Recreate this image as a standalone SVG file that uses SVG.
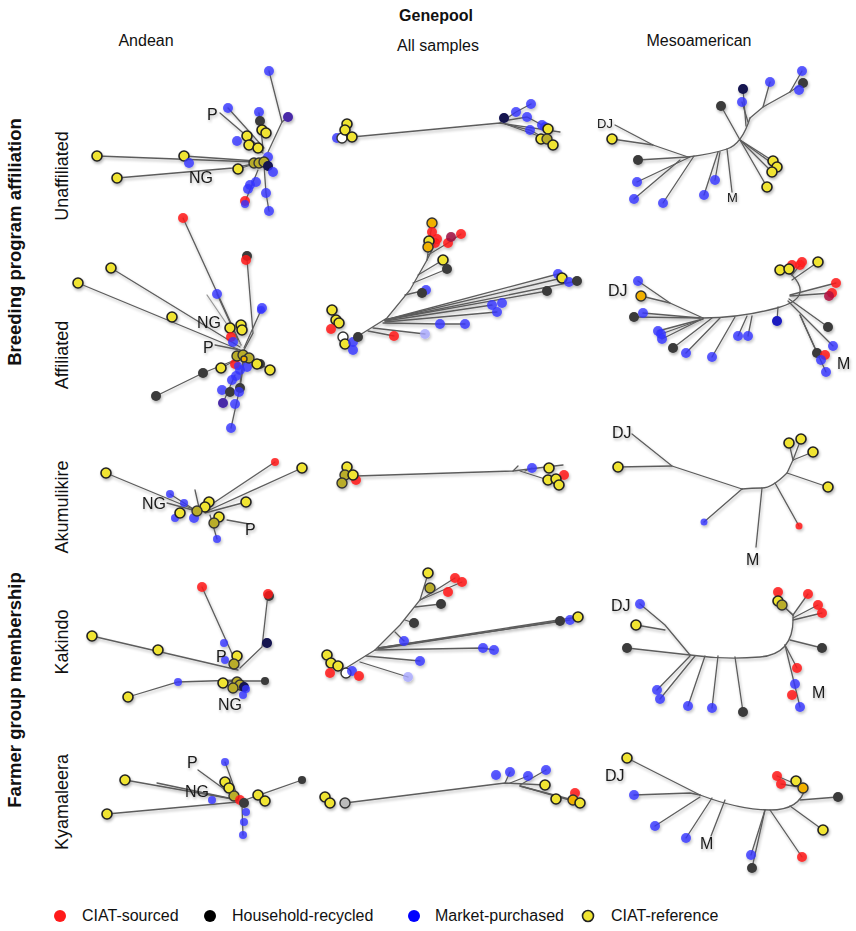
<svg xmlns="http://www.w3.org/2000/svg" width="856" height="931" viewBox="0 0 856 931">
<style>
text{font-family:"Liberation Sans",Arial,sans-serif;fill:#111}
.h{font-size:16px;font-weight:bold}
.g{font-size:18.5px;font-weight:bold}
.c{font-size:16px}
.row{font-size:18px}
.lab{font-size:16px;fill:#1a1a1a}
.sm{font-size:13px}
.br path{fill:none;stroke:#5c5c5c;stroke-width:1.3;stroke-linecap:round}
.y{fill:#f0e431;stroke:#222;stroke-width:1.6}
.ol{fill:#b9ad2c;stroke:#333;stroke-width:1.4}
.o{fill:#f0b000;stroke:#333;stroke-width:1.4}
.b{fill:#3434ff;fill-opacity:.8}
.pb{fill:#a9a9ff;fill-opacity:.8}
.r{fill:#ff1a1a;fill-opacity:.85}
.k{fill:#3a3a3a}
.n{fill:#12124f}
.p{fill:#4a2aa8}
.w{fill:#fff;stroke:#333;stroke-width:1.4}
</style>
<defs>
<filter id="sh" x="-50%" y="-50%" width="200%" height="200%"><feGaussianBlur in="SourceAlpha" stdDeviation="1.5"/><feOffset dx="1" dy="1.5"/><feComponentTransfer><feFuncA type="linear" slope="0.3"/></feComponentTransfer><feMerge><feMergeNode/><feMergeNode in="SourceGraphic"/></feMerge></filter>
</defs>

<g id="headers">
<text class="h" x="436" y="21" text-anchor="middle">Genepool</text>
<text class="c" x="146" y="46" text-anchor="middle">Andean</text>
<text class="c" x="438" y="51" text-anchor="middle">All samples</text>
<text class="c" x="699" y="46" text-anchor="middle">Mesoamerican</text>
<text class="g" transform="translate(21,242) rotate(-90)" text-anchor="middle">Breeding program affiliation</text>
<text class="g" transform="translate(21,690) rotate(-90)" text-anchor="middle">Farmer group membership</text>
<text class="row" transform="translate(68,176) rotate(-90)" text-anchor="middle">Unaffiliated</text>
<text class="row" transform="translate(68,355) rotate(-90)" text-anchor="middle">Affiliated</text>
<text class="row" transform="translate(68,507) rotate(-90)" text-anchor="middle">Akumulikire</text>
<text class="row" transform="translate(68,642) rotate(-90)" text-anchor="middle">Kakindo</text>
<text class="row" transform="translate(68,802) rotate(-90)" text-anchor="middle">Kyamaleera</text>
</g>

<!-- Row 1 Andean Unaffiliated -->
<g id="andean-unaffiliated" filter="url(#sh)">
<g class="br"><path d="M97,156 L256,162"/><path d="M184,156 L256,161"/><path d="M117,178 L233,168 L258,163"/><path d="M220,113 L263,150"/><path d="M228,108 L264,148"/><path d="M269,71 L282,122 L268,152"/><path d="M288,117 L282,122"/><path d="M259,113 L263,148"/><path d="M247,136 L263,151"/><path d="M249,145 L263,153"/><path d="M238,169 L258,163"/><path d="M269,211 L266,193 L264,165"/><path d="M245,202 L258,170"/></g>
<circle class="b" cx="269" cy="71" r="5"/><circle class="p" cx="288" cy="117" r="5"/><circle class="b" cx="228" cy="108" r="5"/><circle class="b" cx="259" cy="112" r="5"/><circle class="k" cx="260" cy="121" r="5"/>
<circle class="y" cx="262" cy="130" r="5"/><circle class="y" cx="266" cy="133" r="5"/><circle class="b" cx="237" cy="141" r="5"/><circle class="y" cx="247" cy="136" r="5"/><circle class="y" cx="249" cy="145" r="5"/><circle class="y" cx="258" cy="148" r="5"/>
<circle class="y" cx="97" cy="156" r="5"/><circle class="y" cx="184" cy="156" r="5"/><circle class="b" cx="189" cy="163" r="5"/><circle class="y" cx="117" cy="178" r="5"/><circle class="y" cx="238" cy="169" r="5"/>
<circle class="b" cx="268" cy="157" r="5"/><circle class="ol" cx="254" cy="163" r="5"/><circle class="ol" cx="259" cy="163" r="5"/><circle class="ol" cx="264" cy="162" r="5"/><circle class="n" cx="268" cy="166" r="5"/><circle class="b" cx="273" cy="172" r="5"/>
<circle class="b" cx="256" cy="182" r="5"/><circle class="b" cx="250" cy="185" r="5"/><circle class="b" cx="248" cy="189" r="5"/><circle class="b" cx="266" cy="193" r="5"/><circle class="r" cx="245" cy="201" r="5"/><circle class="b" cx="245" cy="204" r="4"/><circle class="b" cx="269" cy="211" r="5"/>
<text class="lab" x="207" y="120">P</text><text class="lab" x="189" y="183">NG</text>
</g>

<!-- Row 2 Andean Affiliated -->
<g id="andean-affiliated" filter="url(#sh)">
<g class="br"><path d="M183,218 L241,345"/><path d="M247,259 L253,333 L244,350"/><path d="M262,308 L244,348"/><path d="M111,268 L240,347"/><path d="M78,283 L240,350"/><path d="M207,295 L241,345" style="stroke:#999"/><path d="M217,294 L238,340"/><path d="M215,345 L240,350"/><path d="M156,396 L203,373 L240,358"/><path d="M221,368 L240,358"/><path d="M270,370 L250,358"/><path d="M231,428 L239,392 L243,360"/><path d="M223,403 L235,375"/><path d="M240,388 L244,362"/></g>
<circle class="r" cx="183" cy="218" r="5"/><circle class="k" cx="247" cy="256" r="5"/><circle class="r" cx="246" cy="260" r="5"/>
<circle class="y" cx="111" cy="268" r="5"/><circle class="y" cx="78" cy="283" r="5"/><circle class="y" cx="172" cy="317" r="5"/>
<circle class="b" cx="217" cy="294" r="5"/><circle class="b" cx="262" cy="308" r="5"/><circle class="b" cx="261" cy="310" r="4"/>
<circle class="y" cx="241" cy="325" r="5"/><circle class="y" cx="230" cy="328" r="5"/><circle class="y" cx="242" cy="330" r="5"/><circle class="r" cx="231" cy="337" r="5"/><circle class="b" cx="233" cy="342" r="5"/>
<circle class="b" cx="247" cy="367" r="5"/><circle class="b" cx="240" cy="370" r="5"/><circle class="r" cx="235" cy="364" r="5"/><circle class="b" cx="238" cy="366" r="4"/>
<circle class="ol" cx="237" cy="356" r="5"/><circle class="ol" cx="243" cy="355" r="5"/><circle class="ol" cx="249" cy="358" r="5"/><circle class="o" cx="244" cy="359" r="3"/>
<circle class="k" cx="260" cy="364" r="5"/><circle class="y" cx="257" cy="364" r="5"/><circle class="y" cx="270" cy="370" r="5"/><circle class="y" cx="221" cy="368" r="5"/>
<circle class="k" cx="203" cy="373" r="5"/><circle class="k" cx="156" cy="396" r="5"/>
<circle class="b" cx="232" cy="380" r="5"/><circle class="b" cx="236" cy="376" r="5"/><circle class="b" cx="222" cy="390" r="5"/><circle class="k" cx="230" cy="392" r="5"/><circle class="k" cx="240" cy="388" r="5"/><circle class="b" cx="239" cy="392" r="5"/><circle class="p" cx="223" cy="403" r="5"/><circle class="b" cx="235" cy="404" r="5"/><circle class="b" cx="231" cy="428" r="5"/>
<text class="lab" x="197" y="328">NG</text><text class="lab" x="203" y="353">P</text>
</g>

<!-- Row 1 All samples Unaffiliated -->
<g id="all-unaffiliated" filter="url(#sh)">
<g class="br"><path d="M352,137 L500,123 L560,132"/><path d="M500,123 L516,112 L531,104"/><path d="M503,121 L527,117 L542,125"/><path d="M505,124 L530,130 L548,140"/><path d="M508,125 L547,139 L553,145"/></g>
<circle class="b" cx="337" cy="138" r="5"/><circle class="w" cx="342" cy="138" r="5"/><circle class="y" cx="347" cy="124" r="5"/><circle class="y" cx="345" cy="130" r="5"/><circle class="y" cx="352" cy="137" r="5"/>
<circle class="n" cx="504" cy="118" r="5"/><circle class="b" cx="516" cy="112" r="5"/><circle class="b" cx="531" cy="104" r="5"/><circle class="b" cx="527" cy="117" r="5"/><circle class="b" cx="530" cy="130" r="5"/><circle class="b" cx="542" cy="125" r="5"/><circle class="b" cx="545" cy="127" r="5"/>
<circle class="y" cx="548" cy="129" r="5"/><circle class="y" cx="541" cy="139" r="5"/><circle class="ol" cx="547" cy="139" r="5"/><circle class="y" cx="553" cy="145" r="5"/>
</g>

<!-- Row 2 All samples Affiliated -->
<g id="all-affiliated" filter="url(#sh)">
<g class="br"><path d="M355,338 L387,318 L410,290 L427,260 L432,223"/><path d="M427,260 L437,240"/><path d="M428,255 L448,243 L461,234"/><path d="M418,275 L443,260"/><path d="M413,283 L447,269"/><path d="M405,295 L426,290"/><path d="M385,320 L558,274"/><path d="M385,320 L562,278"/><path d="M385,320 L577,281"/><path d="M385,320 L547,291"/><path d="M385,321 L492,305"/><path d="M385,322 L497,312"/><path d="M383,323 L440,324 L465,324"/><path d="M373,328 L425,334"/><path d="M368,331 L394,336"/></g>
<circle class="o" cx="432" cy="223" r="5"/><circle class="r" cx="432" cy="232" r="5"/><circle class="r" cx="437" cy="239" r="5"/><circle class="r" cx="435" cy="243" r="5"/><circle class="y" cx="429" cy="241" r="5"/><circle class="o" cx="428" cy="247" r="5"/>
<circle class="r" cx="448" cy="243" r="5"/><circle class="r" cx="451" cy="237" r="5" style="fill:#a01040"/><circle class="r" cx="461" cy="234" r="5"/>
<circle class="y" cx="443" cy="260" r="5"/><circle class="k" cx="447" cy="269" r="5"/><circle class="b" cx="426" cy="290" r="5"/><circle class="k" cx="422" cy="293" r="5"/>
<circle class="b" cx="558" cy="274" r="5"/><circle class="y" cx="562" cy="278" r="5"/><circle class="b" cx="569" cy="282" r="5"/><circle class="k" cx="577" cy="281" r="5"/><circle class="k" cx="547" cy="291" r="5"/>
<circle class="b" cx="492" cy="305" r="5"/><circle class="b" cx="502" cy="303" r="5"/><circle class="b" cx="497" cy="312" r="5"/>
<circle class="b" cx="440" cy="324" r="5"/><circle class="b" cx="465" cy="324" r="5"/><circle class="pb" cx="425" cy="334" r="5"/><circle class="r" cx="394" cy="336" r="5"/>
<circle class="y" cx="332" cy="310" r="5"/><circle class="y" cx="336" cy="320" r="5"/><circle class="y" cx="339" cy="323" r="5"/><circle class="r" cx="331" cy="329" r="5"/>
<circle class="w" cx="343" cy="337" r="5"/><circle class="y" cx="345" cy="344" r="5"/><circle class="b" cx="353" cy="342" r="5"/><circle class="b" cx="353" cy="350" r="5"/><circle class="k" cx="358" cy="337" r="5"/>
</g>

<!-- Row 1 Mesoamerican Unaffiliated -->
<g id="meso-unaffiliated" filter="url(#sh)">
<g class="br"><path d="M615,125 L653,145 L688,157"/><path d="M612,139 L653,145"/><path d="M638,160 L688,157"/><path d="M637,182 L690,157"/><path d="M634,199 L680,160"/><path d="M663,203 L694,156"/><path d="M688,157 Q712,154 727,149 T750,118"/><path d="M740,140 L721,106"/><path d="M750,118 L763,107 L790,92"/><path d="M746,126 L743,89"/><path d="M748,122 L742,102"/><path d="M763,107 L770,82"/><path d="M790,92 L802,71"/><path d="M790,92 L803,83"/><path d="M715,180 L720,152"/><path d="M704,195 L718,152"/><path d="M732,192 L727,149"/><path d="M740,140 L773,161"/><path d="M740,140 L777,167"/><path d="M740,140 L772,172"/><path d="M740,140 L767,187"/></g>
<circle class="y" cx="612" cy="139" r="5"/><circle class="k" cx="638" cy="160" r="5"/><circle class="b" cx="637" cy="182" r="5"/><circle class="b" cx="634" cy="199" r="5"/><circle class="b" cx="663" cy="203" r="5"/>
<circle class="k" cx="721" cy="106" r="5"/><circle class="n" cx="743" cy="89" r="5"/><circle class="b" cx="742" cy="102" r="5"/><circle class="b" cx="770" cy="82" r="5"/><circle class="b" cx="802" cy="71" r="5"/><circle class="k" cx="803" cy="83" r="5"/><circle class="b" cx="799" cy="90" r="5"/>
<circle class="b" cx="715" cy="180" r="5"/><circle class="b" cx="704" cy="195" r="5"/>
<circle class="y" cx="773" cy="161" r="5"/><circle class="y" cx="777" cy="167" r="5"/><circle class="y" cx="772" cy="172" r="5"/><circle class="y" cx="767" cy="187" r="5"/>
<text class="lab sm" x="597" y="128">DJ</text><text class="lab sm" x="727" y="202">M</text>
</g>

<!-- Row 2 Mesoamerican Affiliated -->
<g id="meso-affiliated" filter="url(#sh)">
<g class="br"><path d="M638,281 L670,303 L703,318"/><path d="M641,296 L670,303"/><path d="M634,317 L703,318"/><path d="M643,313 L700,318"/><path d="M658,331 L703,319"/><path d="M661,334 L703,319"/><path d="M662,339 L700,320"/><path d="M673,348 L712,318"/><path d="M686,353 L720,318"/><path d="M712,357 L735,317"/><path d="M738,336 L747,316"/><path d="M748,336 L752,316"/><path d="M703,318 Q740,318 777,308 T792,275"/><path d="M777,321 L778,307"/><path d="M792,275 L780,270"/><path d="M792,275 L789,269"/><path d="M792,275 L800,265"/><path d="M792,280 L818,262"/><path d="M790,295 L836,283"/><path d="M790,296 L832,293"/><path d="M789,299 L828,327"/><path d="M788,301 L833,346"/><path d="M800,315 L817,353"/><path d="M800,315 L826,372"/></g>
<circle class="b" cx="638" cy="281" r="5"/><circle class="o" cx="641" cy="296" r="5"/><circle class="k" cx="634" cy="317" r="5"/><circle class="b" cx="643" cy="313" r="5"/>
<circle class="b" cx="658" cy="331" r="5"/><circle class="b" cx="661" cy="334" r="5"/><circle class="b" cx="662" cy="339" r="5"/><circle class="k" cx="673" cy="348" r="5"/><circle class="b" cx="686" cy="353" r="5"/><circle class="b" cx="712" cy="357" r="5"/>
<circle class="b" cx="738" cy="336" r="5"/><circle class="b" cx="748" cy="336" r="5"/><circle class="n" cx="777" cy="321" r="5" style="fill:#1a1ac0"/>
<circle class="r" cx="792" cy="265" r="5"/><circle class="r" cx="800" cy="265" r="5"/><circle class="r" cx="802" cy="262" r="5"/><circle class="y" cx="780" cy="270" r="5"/><circle class="y" cx="789" cy="269" r="5"/><circle class="y" cx="818" cy="262" r="5"/>
<circle class="r" cx="836" cy="283" r="5"/><circle class="r" cx="832" cy="293" r="5"/><circle class="r" cx="829" cy="296" r="5" style="fill:#b01040"/>
<circle class="k" cx="828" cy="327" r="5"/><circle class="b" cx="833" cy="346" r="5"/><circle class="k" cx="817" cy="353" r="5"/><circle class="r" cx="825" cy="355" r="5"/><circle class="b" cx="821" cy="360" r="5"/><circle class="b" cx="826" cy="372" r="5"/>
<text class="lab" x="608" y="296">DJ</text><text class="lab" x="837" y="369">M</text>
</g>

<!-- Row 3 Andean Akumulikire -->
<g id="andean-akumulikire" filter="url(#sh)">
<g class="br"><path d="M106,473 L200,512"/><path d="M167,503 L200,512"/><path d="M170,494 L198,512"/><path d="M195,490 L200,512"/><path d="M275,462 L200,512"/><path d="M302,468 L205,512"/><path d="M246,502 L205,513"/><path d="M227,520 L249,524"/><path d="M217,539 L210,515"/></g>
<circle class="y" cx="106" cy="473" r="5"/><circle class="r" cx="275" cy="462" r="4"/><circle class="y" cx="302" cy="468" r="5"/>
<circle class="b" cx="170" cy="494" r="4"/><circle class="b" cx="184" cy="503" r="4"/><circle class="b" cx="175" cy="518" r="4"/>
<circle class="y" cx="180" cy="513" r="5"/><circle class="y" cx="209" cy="502" r="5"/><circle class="y" cx="205" cy="507" r="5"/><circle class="b" cx="194" cy="518" r="5"/><circle class="ol" cx="197" cy="511" r="5"/><circle class="y" cx="246" cy="502" r="5"/>
<circle class="y" cx="219" cy="517" r="5"/><circle class="ol" cx="214" cy="523" r="5"/><circle class="b" cx="217" cy="539" r="4"/>
<text class="lab" x="142" y="509">NG</text><text class="lab" x="245" y="535">P</text>
</g>

<!-- Row 3 All samples Akumulikire -->
<g id="all-akumulikire" filter="url(#sh)">
<g class="br"><path d="M356,476 L513,471 L563,465"/><path d="M513,471 L518,466"/><path d="M520,471 L548,480 L559,485"/><path d="M525,471 L532,468"/></g>
<circle class="y" cx="347" cy="467" r="5"/><circle class="ol" cx="345" cy="475" r="5"/><circle class="r" cx="356" cy="480" r="5"/><circle class="y" cx="353" cy="475" r="5"/><circle class="ol" cx="342" cy="483" r="5"/>
<circle class="b" cx="532" cy="468" r="5"/><circle class="y" cx="549" cy="468" r="5"/><circle class="r" cx="564" cy="475" r="5"/><circle class="y" cx="548" cy="480" r="5"/><circle class="y" cx="556" cy="479" r="5"/><circle class="y" cx="559" cy="485" r="5"/>
</g>

<!-- Row 3 Mesoamerican Akumulikire -->
<g id="meso-akumulikire" filter="url(#sh)">
<g class="br"><path d="M632,434 L672,466 L742,489"/><path d="M618,467 L672,466"/><path d="M742,489 Q752,488 762,488 T787,473 L793,460"/><path d="M704,522 L742,489"/><path d="M756,547 L762,488"/><path d="M799,526 L775,483"/><path d="M828,487 L787,473"/><path d="M789,443 L793,460"/><path d="M801,439 L793,460"/><path d="M813,452 L793,460"/></g>
<circle class="y" cx="618" cy="467" r="5"/><circle class="b" cx="704" cy="522" r="3.5"/><circle class="r" cx="799" cy="526" r="3.5"/><circle class="y" cx="828" cy="487" r="5"/><circle class="y" cx="789" cy="443" r="5"/><circle class="y" cx="801" cy="439" r="5"/><circle class="y" cx="813" cy="452" r="5"/>
<text class="lab" x="612" y="438">DJ</text><text class="lab" x="746" y="565">M</text>
</g>

<!-- Row 4 Andean Kakindo -->
<g id="andean-kakindo" filter="url(#sh)">
<g class="br"><path d="M202,587 L238,667"/><path d="M268,594 L262,647 L240,668"/><path d="M92,636 L238,670"/><path d="M128,697 L178,682 L240,680"/><path d="M223,683 L240,680"/><path d="M265,681 L242,681"/></g>
<circle class="r" cx="202" cy="587" r="5"/><circle class="k" cx="269" cy="596" r="5"/><circle class="r" cx="268" cy="594" r="5"/><circle class="n" cx="267" cy="643" r="5"/>
<circle class="y" cx="92" cy="636" r="5"/><circle class="y" cx="158" cy="650" r="5"/><circle class="b" cx="224" cy="643" r="4"/><circle class="b" cx="225" cy="660" r="4"/>
<circle class="y" cx="237" cy="656" r="5"/><circle class="ol" cx="234" cy="664" r="5"/>
<circle class="y" cx="128" cy="697" r="5"/><circle class="b" cx="178" cy="682" r="4"/><circle class="y" cx="223" cy="683" r="5"/><circle class="k" cx="265" cy="681" r="4"/>
<circle class="ol" cx="237" cy="682" r="5"/><circle class="ol" cx="240" cy="685" r="5"/><circle class="ol" cx="233" cy="688" r="5"/><circle class="n" cx="244" cy="687" r="5"/><circle class="b" cx="246" cy="689" r="4"/><circle class="b" cx="243" cy="695" r="4"/>
<text class="lab" x="216" y="662">P</text><text class="lab" x="218" y="710">NG</text>
</g>

<!-- Row 4 All samples Kakindo -->
<g id="all-kakindo" filter="url(#sh)">
<g class="br"><path d="M346,668 L375,650 L400,625 L420,600 L428,574"/><path d="M420,600 L455,578"/><path d="M420,600 L462,582"/><path d="M415,607 L441,604"/><path d="M405,620 L414,623"/><path d="M395,632 L404,641"/><path d="M378,648 L578,617"/><path d="M378,648 L570,620"/><path d="M378,649 L560,621"/><path d="M375,650 L483,648 L494,650"/><path d="M366,656 L420,661"/><path d="M360,662 L408,677"/></g>
<circle class="y" cx="428" cy="573" r="5"/><circle class="r" cx="455" cy="578" r="5"/><circle class="r" cx="462" cy="582" r="5"/><circle class="ol" cx="430" cy="588" r="5"/><circle class="r" cx="448" cy="592" r="5"/><circle class="k" cx="441" cy="604" r="5"/>
<circle class="k" cx="414" cy="623" r="5"/><circle class="b" cx="404" cy="641" r="5"/>
<circle class="k" cx="560" cy="621" r="5"/><circle class="b" cx="570" cy="620" r="5"/><circle class="y" cx="578" cy="617" r="5"/><circle class="b" cx="483" cy="648" r="5"/><circle class="b" cx="494" cy="650" r="5"/>
<circle class="b" cx="420" cy="661" r="5"/><circle class="pb" cx="408" cy="677" r="5"/>
<circle class="y" cx="327" cy="655" r="5"/><circle class="y" cx="331" cy="663" r="5"/><circle class="y" cx="338" cy="666" r="5"/><circle class="r" cx="330" cy="673" r="5"/><circle class="w" cx="346" cy="673" r="5"/><circle class="b" cx="352" cy="671" r="5"/><circle class="r" cx="359" cy="676" r="5"/>
</g>

<!-- Row 4 Mesoamerican Kakindo -->
<g id="meso-kakindo" filter="url(#sh)">
<g class="br"><path d="M640,604 L665,625 L690,655"/><path d="M636,625 L665,630"/><path d="M627,648 L690,655"/><path d="M657,690 L690,656"/><path d="M660,699 L695,656"/><path d="M688,706 L705,656"/><path d="M712,708 L718,656"/><path d="M743,712 L735,657"/><path d="M690,655 Q725,660 760,657 T793,615"/><path d="M793,615 L778,601"/><path d="M793,615 L782,605"/><path d="M793,615 L808,594"/><path d="M793,618 L818,605"/><path d="M793,620 L822,613"/><path d="M790,640 L822,648"/><path d="M785,645 L797,668"/><path d="M785,645 L800,707"/></g>
<circle class="b" cx="640" cy="604" r="5"/><circle class="y" cx="636" cy="625" r="5"/><circle class="k" cx="627" cy="648" r="5"/><circle class="b" cx="657" cy="690" r="5"/><circle class="b" cx="660" cy="699" r="5"/><circle class="b" cx="688" cy="706" r="5"/><circle class="b" cx="712" cy="708" r="5"/><circle class="k" cx="743" cy="712" r="5"/>
<circle class="r" cx="778" cy="592" r="5"/><circle class="y" cx="778" cy="601" r="5"/><circle class="ol" cx="782" cy="605" r="5"/><circle class="r" cx="808" cy="594" r="5"/><circle class="r" cx="818" cy="605" r="5"/><circle class="r" cx="822" cy="613" r="5"/>
<circle class="k" cx="822" cy="648" r="5"/><circle class="r" cx="797" cy="668" r="5"/><circle class="b" cx="795" cy="684" r="5"/><circle class="r" cx="792" cy="695" r="5"/><circle class="b" cx="800" cy="707" r="5"/>
<text class="lab" x="611" y="611">DJ</text><text class="lab" x="812" y="698">M</text>
</g>

<!-- Row 5 Andean Kyamaleera -->
<g id="andean-kyamaleera" filter="url(#sh)">
<g class="br"><path d="M125,780 L238,800"/><path d="M107,814 L238,802"/><path d="M157,783 L238,800"/><path d="M198,770 L235,797"/><path d="M225,762 L238,798"/><path d="M302,780 L245,800"/><path d="M243,835 L242,805"/></g>
<circle class="y" cx="125" cy="780" r="5"/><circle class="y" cx="107" cy="814" r="5"/><circle class="b" cx="225" cy="762" r="4"/>
<circle class="y" cx="225" cy="782" r="5"/><circle class="y" cx="229" cy="788" r="5"/><circle class="b" cx="212" cy="800" r="4"/><circle class="ol" cx="234" cy="796" r="5"/>
<circle class="r" cx="240" cy="800" r="5"/><circle class="k" cx="244" cy="803" r="5"/><circle class="y" cx="258" cy="795" r="5"/><circle class="y" cx="265" cy="801" r="5"/><circle class="k" cx="302" cy="780" r="4"/>
<circle class="b" cx="246" cy="812" r="4"/><circle class="b" cx="244" cy="822" r="4"/><circle class="b" cx="243" cy="835" r="4"/>
<text class="lab" x="187" y="768">P</text><text class="lab" x="185" y="797">NG</text>
</g>

<!-- Row 5 All samples Kyamaleera -->
<g id="all-kyamaleera" filter="url(#sh)">
<g class="br"><path d="M345,803 L505,783 L545,785"/><path d="M505,783 L510,772"/><path d="M510,783 L528,776"/><path d="M520,785 L546,770"/><path d="M520,786 L573,800"/><path d="M520,786 L580,803"/></g>
<circle class="y" cx="325" cy="797" r="5"/><circle class="y" cx="330" cy="803" r="5"/><circle class="w" cx="345" cy="803" r="5" style="fill:#bbb"/>
<circle class="b" cx="496" cy="775" r="5"/><circle class="b" cx="510" cy="772" r="5"/><circle class="b" cx="528" cy="776" r="5"/><circle class="b" cx="546" cy="770" r="5"/><circle class="y" cx="545" cy="785" r="5"/><circle class="r" cx="575" cy="793" r="5"/>
<circle class="y" cx="556" cy="799" r="5"/><circle class="o" cx="573" cy="800" r="5"/><circle class="y" cx="580" cy="803" r="5"/>
</g>

<!-- Row 5 Mesoamerican Kyamaleera -->
<g id="meso-kyamaleera" filter="url(#sh)">
<g class="br"><path d="M627,758 L700,795"/><path d="M634,795 L690,793 L700,795"/><path d="M655,826 L700,797"/><path d="M686,838 L712,798"/><path d="M711,836 L725,800"/><path d="M700,795 Q740,810 770,810 T805,788"/><path d="M805,788 L777,776"/><path d="M805,788 L781,784"/><path d="M805,788 L796,781"/><path d="M805,788 L803,788"/><path d="M800,800 L838,797"/><path d="M790,806 L823,830"/><path d="M770,810 L802,857"/><path d="M765,810 L752,868"/><path d="M765,810 L751,855"/></g>
<circle class="y" cx="627" cy="758" r="5"/><circle class="b" cx="634" cy="795" r="5"/><circle class="b" cx="655" cy="826" r="5"/><circle class="b" cx="686" cy="838" r="5"/>
<circle class="r" cx="777" cy="776" r="5"/><circle class="r" cx="781" cy="784" r="5"/><circle class="y" cx="796" cy="781" r="5"/><circle class="o" cx="803" cy="788" r="5"/>
<circle class="k" cx="838" cy="797" r="5"/><circle class="y" cx="823" cy="830" r="5"/><circle class="r" cx="802" cy="857" r="5"/><circle class="b" cx="751" cy="855" r="5"/><circle class="k" cx="752" cy="868" r="5"/>
<text class="lab" x="605" y="781">DJ</text><text class="lab" x="700" y="849">M</text>
</g>

<g id="legend">
<circle class="r" cx="60" cy="916" r="6" style="fill-opacity:1"/><text class="c" x="82" y="921">CIAT-sourced</text>
<circle cx="210" cy="916" r="6" fill="#000"/><text class="c" x="232" y="921">Household-recycled</text>
<circle cx="414" cy="916" r="6" fill="#0000ff"/><text class="c" x="435" y="921">Market-purchased</text>
<circle class="y" cx="588" cy="916" r="5.5"/><text class="c" x="611" y="921">CIAT-reference</text>
</g>
</svg>
